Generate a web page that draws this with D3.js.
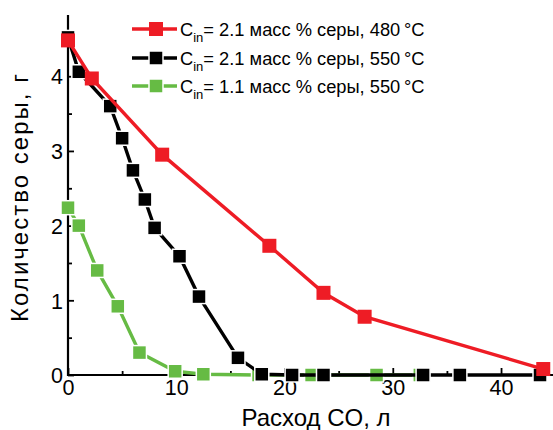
<!DOCTYPE html>
<html><head><meta charset="utf-8">
<script src="https://cdn.jsdelivr.net/npm/d3@7"></script>
<style>body{margin:0;background:#fff;} text{font-family:"Liberation Sans",Arial,sans-serif;}</style>
</head><body>
<svg id="c" width="553" height="430"></svg>
<script>
const redX = [0, 2.2, 8.7, 18.6, 23.6, 27.4, 43.9];
const redY = [4.48, 3.97, 2.95, 1.73, 1.10, 0.78, 0.08];
const blackX = [0, 1.0, 3.9, 5.0, 6.0, 7.1, 8.0, 10.3, 12.1, 15.7, 17.9, 20.7, 23.6, 32.8, 36.2, 43.6];
const blackY = [4.52, 4.06, 3.60, 3.17, 2.74, 2.35, 1.97, 1.59, 1.05, 0.23, 0.01, 0, 0, 0, 0, 0];
const greenX = [0, 1.0, 2.7, 4.6, 6.6, 9.9, 12.5, 17.6, 22.5, 28.5, 32.5];
const greenY = [2.24, 2.0, 1.40, 0.92, 0.30, 0.05, 0.01, 0, 0, 0, 0];
const xTicks = [0, 10, 20, 30, 40];
const yTicks = [0, 1, 2, 3, 4];
const legendLabels = [
  ["= 2.1 масс % серы, 480\u2009°C"],
  ["= 2.1 масс % серы, 550\u2009°C"],
  ["= 1.1 масс % серы, 550\u2009°C"]
];
const colors = ["#ee1c25", "#000000", "#66bb44"];

const svg = d3.select("#c");
const x = d3.scaleLinear().domain([0, 44.8]).range([68, 553]);
const y = d3.scaleLinear().domain([0, 4.82]).range([375, 15]);

// axes
const xAxis = d3.axisBottom(x).tickValues(d3.range(0, 45, 5)).tickSize(0).tickFormat("");
const gx = svg.append("g").attr("transform", "translate(0,375)").call(xAxis);
gx.select(".domain").attr("stroke", "#000").attr("stroke-width", 2.2).attr("d", "M68,0H553");
gx.selectAll(".tick line").attr("stroke", "#000").attr("stroke-width", 1.8)
  .attr("y2", d => xTicks.includes(d) ? -7 : -4);
gx.selectAll(".tick").filter(d => xTicks.includes(d)).append("text")
  .attr("y", 20).attr("fill", "#000").attr("font-size", 21.5).attr("text-anchor", "middle")
  .attr("font-family", "Liberation Sans, Arial, sans-serif")
  .text(d => d);

const yAxis = d3.axisLeft(y).tickValues(d3.range(0, 4.75, 0.5)).tickSize(0).tickFormat("");
const gy = svg.append("g").attr("transform", "translate(68,0)").call(yAxis);
gy.select(".domain").attr("stroke", "#000").attr("stroke-width", 2.2).attr("d", "M0,376V15");
gy.selectAll(".tick line").attr("stroke", "#000").attr("stroke-width", 1.8)
  .attr("x2", d => yTicks.includes(d) ? 6 : 4);
gy.selectAll(".tick").filter(d => yTicks.includes(d)).append("text")
  .attr("x", -5).attr("dy", "0.36em").attr("fill", "#000").attr("font-size", 21.5).attr("text-anchor", "end")
  .attr("font-family", "Liberation Sans, Arial, sans-serif")
  .text(d => d);

// titles
svg.append("text").attr("x", 316).attr("y", 426).attr("text-anchor", "middle")
  .attr("font-size", 24).text("Расход CO, л");
svg.append("text").attr("transform", "translate(28,198) rotate(-90)").attr("text-anchor", "middle")
  .attr("font-size", 24).attr("textLength", 248).attr("lengthAdjust", "spacing").text("Количество серы, г");

// series
const series = [
  {xs: greenX, ys: greenY, c: colors[2], outline: true},
  {xs: blackX, ys: blackY, c: colors[1], outline: true},
  {xs: redX, ys: redY, c: colors[0], outline: false}
];
const line = d3.line().x(d => x(d[0])).y(d => y(d[1]));
const S = 14;
series.forEach(s => {
  const pts = s.xs.map((v, i) => [v, s.ys[i]]);
  svg.append("path").attr("d", line(pts)).attr("fill", "none").attr("stroke", s.c).attr("stroke-width", 3.4);
  svg.append("g").selectAll("rect").data(pts).join("rect")
    .attr("x", d => x(d[0]) - S / 2).attr("y", d => y(d[1]) - S / 2)
    .attr("width", S).attr("height", S).attr("fill", s.c)
    .attr("stroke", s.outline ? "#fff" : "none").attr("stroke-width", 1.5);
});

// legend
const legY = [29, 58, 86];
[0, 1, 2].forEach(i => {
  const c = colors[i];
  const gy0 = legY[i];
  const lg = svg.append("g");
  lg.append("line").attr("x1", 132).attr("x2", 177).attr("y1", gy0).attr("y2", gy0)
    .attr("stroke", c).attr("stroke-width", 3.4);
  lg.append("rect").attr("x", 156 - S / 2).attr("y", gy0 - S / 2).attr("width", S).attr("height", S)
    .attr("fill", c).attr("stroke", i === 0 ? "none" : "#fff").attr("stroke-width", 1.5);
  const t = lg.append("text").attr("x", 180).attr("y", gy0 + 7).attr("font-size", 18.3).attr("fill", "#000");
  t.append("tspan").text("C");
  t.append("tspan").attr("font-size", 13).attr("dy", 6).text("in");
  t.append("tspan").attr("dy", -6).text(legendLabels[i][0]);
});
</script>
</body></html>
